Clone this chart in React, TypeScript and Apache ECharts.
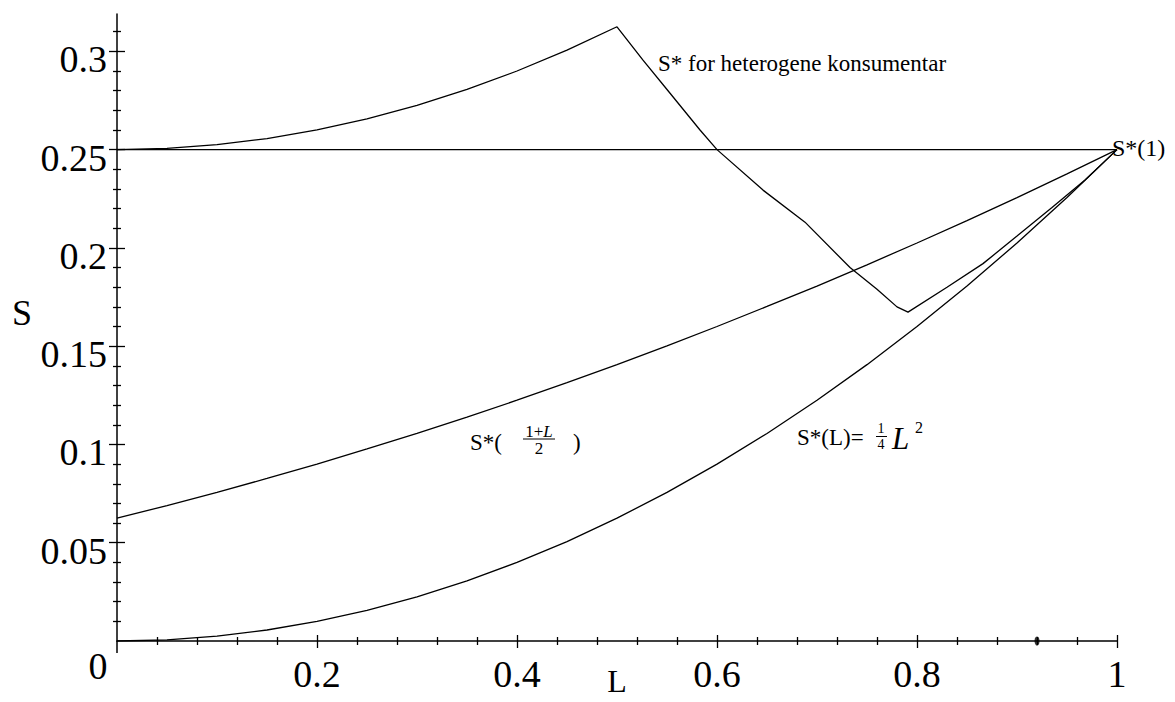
import React, { useEffect, useRef } from "react";
import * as echarts from "echarts";

// ---- data ----
const L_GRID = [0, 0.05, 0.1, 0.15, 0.2, 0.25, 0.3, 0.35, 0.4, 0.45, 0.5, 0.55, 0.6, 0.65, 0.7, 0.75, 0.8, 0.85, 0.9, 0.95, 1];
const S_QUARTER_L2 = [0, 0.0006, 0.0025, 0.0056, 0.01, 0.0156, 0.0225, 0.0306, 0.04, 0.0506, 0.0625, 0.0756, 0.09, 0.1056, 0.1225, 0.1406, 0.16, 0.1806, 0.2025, 0.2256, 0.25];
const S_HALF_1L = [0.0625, 0.0689, 0.0756, 0.0827, 0.09, 0.0977, 0.1056, 0.1139, 0.1225, 0.1314, 0.1406, 0.1502, 0.16, 0.1702, 0.1806, 0.1914, 0.2025, 0.2139, 0.2256, 0.2377, 0.25];

const L_HET = [0, 0.05, 0.1, 0.15, 0.2, 0.25, 0.3, 0.35, 0.4, 0.45, 0.5, 0.526, 0.55, 0.583, 0.6, 0.646, 0.688, 0.733, 0.76, 0.78, 0.791, 0.83, 0.866, 0.9, 0.935, 0.968, 1];
const S_HET = [0.25, 0.2506, 0.2525, 0.2556, 0.26, 0.2656, 0.2725, 0.2806, 0.29, 0.3006, 0.3125, 0.2955, 0.2806, 0.26, 0.25, 0.2294, 0.2131, 0.19, 0.179, 0.17, 0.1673, 0.18, 0.192, 0.206, 0.2205, 0.2345, 0.25];

const L_FLAT = [0, 1];
const S_FLAT = [0.25, 0.25];

const DOT_POINT = [0.92, 0];

const X_TICK_LABELS = [0.2, 0.4, 0.6, 0.8, 1];
const Y_TICK_LABELS = [0.05, 0.1, 0.15, 0.2, 0.25, 0.3];

const X_MAX = 1;
const Y_MAX = 0.319;

const FONT = '"Liberation Serif", "Times New Roman", serif';

function zip(xs: number[], ys: number[]) {
  return xs.map((x, i) => [x, ys[i]]);
}

function minorTicks(count: number, step: number, every: number) {
  const out: number[] = [];
  for (let i = 1; i <= count; i++) {
    if (i % every !== 0) out.push(Math.round(i * step * 1000) / 1000);
  }
  return out;
}

export default function App() {
  const ref = useRef<HTMLDivElement>(null);

  useEffect(() => {
    document.body.style.margin = "0";
    document.body.style.overflow = "hidden";
    if (!ref.current) return;
    const chart = echarts.init(ref.current, null, { renderer: "svg" });

    const xMinor = minorTicks(24, 0.04, 5);
    const yMinor = minorTicks(31, 0.01, 5);

    const baseX = (ticks: number[], len: number, inside: boolean, main: boolean) => ({
      type: "value",
      min: 0,
      max: X_MAX,
      position: "bottom",
      offset: 0,
      splitLine: { show: false },
      axisLine: main ? { show: true, onZero: false, lineStyle: { color: "#000", width: 1.5 } } : { show: false },
      axisTick: { show: true, inside, length: len, customValues: ticks, lineStyle: { color: "#000", width: 1.3 } },
      axisLabel: main
        ? { show: true, customValues: X_TICK_LABELS, color: "#000", fontFamily: FONT, fontSize: 38, margin: 14 }
        : { show: false },
    });

    const baseY = (ticks: number[], len: number, inside: boolean, main: boolean) => ({
      type: "value",
      min: 0,
      max: Y_MAX,
      position: "left",
      offset: 0,
      splitLine: { show: false },
      axisLine: main ? { show: true, onZero: false, lineStyle: { color: "#000", width: 1.5 } } : { show: false },
      axisTick: { show: true, inside, length: len, customValues: ticks, lineStyle: { color: "#000", width: 1.3 } },
      axisLabel: main
        ? {
            show: true,
            customValues: Y_TICK_LABELS,
            color: "#000",
            fontFamily: FONT,
            fontSize: 38,
            margin: 10,
            verticalAlign: "top",
            lineHeight: 16,
          }
        : { show: false },
    });

    const lineSeries = (name: string, data: number[][]) => ({
      name,
      type: "line",
      data,
      xAxisIndex: 0,
      yAxisIndex: 0,
      showSymbol: false,
      symbol: "none",
      smooth: false,
      lineStyle: { color: "#000", width: 1.3 },
      z: 3,
    });

    const txt = (
      text: string,
      x: number,
      y: number,
      size: number,
      align = "left",
      italic = false,
      lineHeight?: number
    ) => ({
      type: "text",
      x,
      y,
      silent: true,
      style: {
        text,
        fill: "#000",
        fontFamily: FONT,
        fontSize: size,
        fontStyle: italic ? "italic" : "normal",
        align,
        verticalAlign: "middle",
        ...(lineHeight ? { lineHeight } : {}),
      },
    });

    const bar = (x1: number, x2: number, y: number) => ({
      type: "line",
      silent: true,
      shape: { x1, y1: y, x2, y2: y },
      style: { stroke: "#000", lineWidth: 1 },
    });

    chart.setOption({
      animation: false,
      backgroundColor: "#fff",
      grid: {
        left: 117,
        right: 58,
        top: 641 - Math.round(Y_MAX * 1966),
        bottom: 61,
        containLabel: false,
        outerBoundsMode: "none",
      },
      xAxis: [
        baseX(X_TICK_LABELS, 7, false, true),
        baseX(X_TICK_LABELS, 6, true, false),
        baseX(xMinor, 4, false, false),
        baseX(xMinor, 4, true, false),
      ],
      yAxis: [
        baseY(Y_TICK_LABELS, 8, false, true),
        baseY(Y_TICK_LABELS, 8, true, false),
        baseY(yMinor, 4, false, false),
        baseY(yMinor, 4, true, false),
      ],
      series: [
        lineSeries("S* for heterogene konsumentar", zip(L_HET, S_HET)),
        lineSeries("S*(1)", zip(L_FLAT, S_FLAT)),
        lineSeries("S*((1+L)/2)", zip(L_GRID, S_HALF_1L)),
        lineSeries("S*(L)=1/4 L^2", zip(L_GRID, S_QUARTER_L2)),
        {
          type: "scatter",
          xAxisIndex: 0,
          yAxisIndex: 0,
          data: [DOT_POINT],
          symbol: "circle",
          symbolSize: [5, 9],
          itemStyle: { color: "#000" },
          z: 4,
        },
      ],
      graphic: [
        { type: "line", silent: true, shape: { x1: 117, y1: 641, x2: 117, y2: 653 }, style: { stroke: "#000", lineWidth: 1.5 } },
        txt("0", 98, 666, 38, "center"),
        txt("S", 22, 313, 36, "center"),
        txt("L", 617, 681, 32, "center", false, 26),
        txt("S* for heterogene konsumentar", 658, 63, 23),
        txt("S*(1)", 1112, 148, 24),
        txt("S*(", 470, 442, 23),
        {
          type: "text",
          x: 539,
          y: 439.5,
          silent: true,
          style: {
            text: "{n|1+}{i|L}\n{n|2}",
            align: "center",
            verticalAlign: "middle",
            fill: "#000",
            rich: {
              n: { fontFamily: FONT, fontSize: 17, fill: "#000", lineHeight: 17, align: "center" },
              i: { fontFamily: FONT, fontSize: 17, fontStyle: "italic", fill: "#000", lineHeight: 17 },
            },
          },
        },
        bar(523, 555, 439),
        txt(")", 573, 442, 23),
        txt("S*(L)=", 797, 437, 23),
        txt("1\n4", 881, 436.5, 14, "center", false, 16),
        bar(876, 887, 436.5),
        txt("L", 892, 438, 31, "left", true, 24),
        txt("2", 915, 427, 16, "left", false, 12),
      ],
    });

    return () => chart.dispose();
  }, []);

  return <div ref={ref} style={{ width: 1175, height: 702 }} />;
}
